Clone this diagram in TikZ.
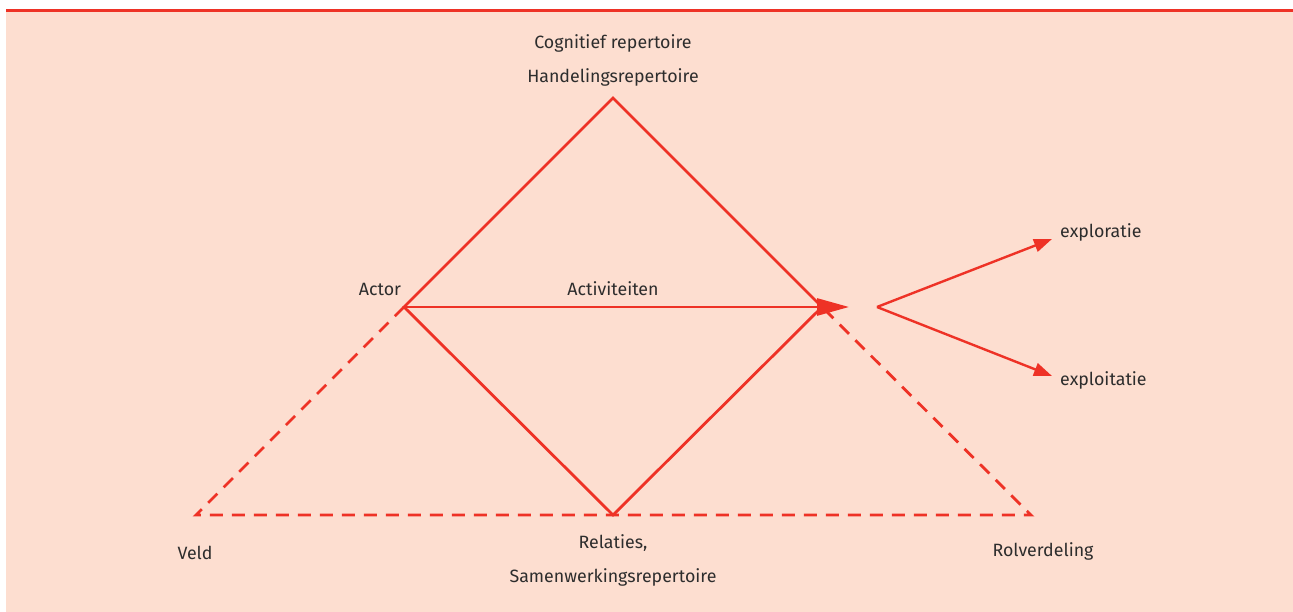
\documentclass[tikz,border=0pt]{standalone}
\usepackage{fontspec}
\setmainfont{Fira Sans}
\usetikzlibrary{arrows.meta}
\definecolor{bgpink}{RGB}{253,222,208}
\definecolor{linered}{RGB}{238,50,38}
\definecolor{txtgray}{RGB}{45,45,45}
\begin{document}
\begin{tikzpicture}[x=1pt,y=-1pt,
  solidline/.style={draw=linered,line width=2.8pt},
  dashline/.style={draw=linered,line width=2.8pt,dash pattern=on 13pt off 9pt},
  lbl/.style={text=txtgray,font=\fontsize{17.8}{20}\selectfont,inner sep=0pt},
  bigtip/.style={-{Triangle[length=32pt,width=17pt]}},
  smalltip/.style={-{Triangle[length=18pt,width=13pt]}}]
  % page frame and band
  \useasboundingbox (0,0) rectangle (1293,612);
  \fill[bgpink] (6,12) rectangle (1293,612);
  \fill[linered] (6,9) rectangle (1293,12);

  % corner points of the diagram
  \coordinate (top) at (613,98);
  \coordinate (actor) at (404,307);
  \coordinate (right) at (822,307);
  \coordinate (bottom) at (613,515);
  \coordinate (veld) at (196,515);
  \coordinate (rol) at (1031,515);
  \coordinate (acttip) at (849,307);
  \coordinate (fork) at (877,307);
  \coordinate (explortip) at (1052,239);
  \coordinate (exploitip) at (1052,376);

  % dashed outer triangle
  \draw[dashline] (actor) -- (veld) -- (rol) -- (right);

  % diamond
  \draw[solidline,line join=miter] (actor) -- (top) -- (right) -- (bottom) -- cycle;

  % activity arrow and fork
  \draw[solidline,bigtip] (actor) -- (acttip);
  \draw[solidline,line width=2.4pt,smalltip] (fork) -- (explortip);
  \draw[solidline,line width=2.4pt,smalltip] (fork) -- (exploitip);

  % labels
  \node[lbl] (cog) at (613,43) {Cognitief repertoire};
  \node[lbl] (hand) at (613,77) {Handelingsrepertoire};
  \node[lbl] (actorlbl) at (380,289) {Actor};
  \node[lbl] (actlbl) at (613,289) {Activiteiten};
  \node[lbl] (veldlbl) at (195,553) {Veld};
  \node[lbl] (rel) at (613,543) {Relaties,};
  \node[lbl] (samen) at (613,577) {Samenwerkingsrepertoire};
  \node[lbl] (rollbl) at (1043,551) {Rolverdeling};
  \node[lbl,anchor=west] (explor) at (1060,232) {exploratie};
  \node[lbl,anchor=west] (exploi) at (1060,380) {exploitatie};
\end{tikzpicture}
\end{document}
